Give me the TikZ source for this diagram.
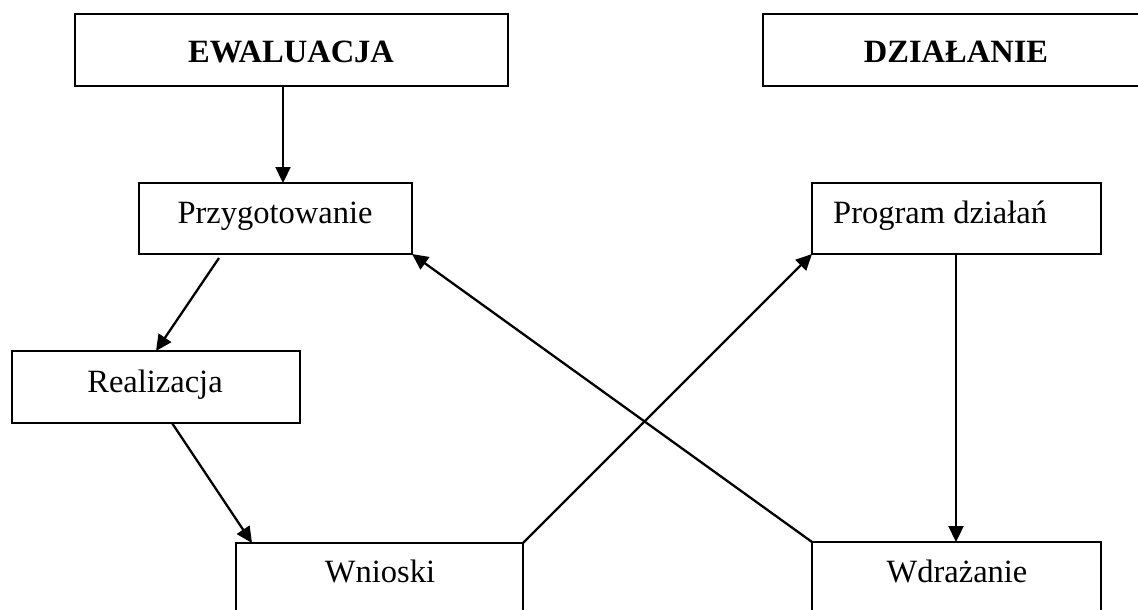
\documentclass[tikz,border=0pt]{standalone}
\usepackage{fontspec}
\setmainfont{Liberation Serif}
\usetikzlibrary{arrows.meta,calc}
\tikzset{
  box/.style={draw, line width=2.3pt, inner sep=0pt, outer sep=0pt, anchor=north west},
  lbl/.style={inner sep=0pt, anchor=base, font=\fontsize{32.5}{38}\selectfont},
  arr/.style={line width=2.3pt, -{Triangle[length=16pt,width=15pt]}}
}
\begin{document}
\begin{tikzpicture}[x=1pt,y=-1pt]
\useasboundingbox (0,0) rectangle (1138,610);
\clip (0,0) rectangle (1138,610);
% boxes
\node[box, minimum width=433pt, minimum height=72pt] (ew) at (75,14) {};
\node[box, minimum width=420pt, minimum height=72pt] (dz) at (763,14) {};
\node[box, minimum width=273pt, minimum height=71pt] (prz) at (139,183) {};
\node[box, minimum width=289pt, minimum height=71pt] (pd) at (812,183) {};
\node[box, minimum width=288pt, minimum height=72pt] (rea) at (12,351) {};
\node[box, minimum width=287pt, minimum height=110pt] (wn) at (236,543) {};
\node[box, minimum width=289pt, minimum height=110pt] (wd) at (812,542) {};
% labels
\node[lbl, font=\fontsize{32.5}{38}\selectfont\bfseries] (tew) at (291,63) {EWALUACJA};
\node[lbl, font=\fontsize{32.5}{38}\selectfont\bfseries] (tdz) at (956,63) {DZIAŁANIE};
\node[lbl] (tprz) at (275,223) {Przygotowanie};
\node[lbl, anchor=base west] (tpd) at (833,223) {Program działań};
\node[lbl] (trea) at (155,392) {Realizacja};
\node[lbl] (twn) at (380,582) {Wnioski};
\node[lbl] (twd) at (957,582) {Wdrażanie};
% connectors
\coordinate (c1) at (283,0);
\draw[arr] (ew.south -| c1) -- (prz.north -| c1);
\draw[arr] ([shift={(80,4)}]prz.south west) -- ([shift={(144,0)}]rea.north west);
\draw[arr] ([shift={(160,0)}]rea.south west) -- ([shift={(16,0)}]wn.north west);
\draw[arr] (wn.north east) -- (pd.south west);
\coordinate (c2) at (956,0);
\draw[arr] (pd.south -| c2) -- (wd.north -| c2);
\draw[arr] (wd.north west) -- (prz.south east);
\end{tikzpicture}
\end{document}
